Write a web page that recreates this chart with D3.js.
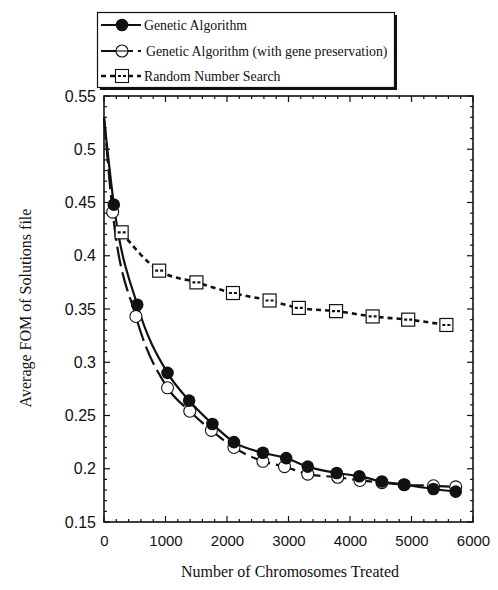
<!DOCTYPE html>
<html lang="en">
<head>
  <meta charset="UTF-8">
  <title>Average FOM vs Chromosomes Treated</title>
  <style>
    body { margin: 0; background: #fff; }
    svg text { fill: #111; }
  </style>
</head>
<body>
  <div id="chart"></div>

  <script src="https://d3js.org/d3.v7.min.js"></script>
  <script>

    // data
    const gaX   = [0, 160, 540, 1033, 1384, 1762, 2113, 2584, 2962, 3313, 3784, 4151, 4519, 4881, 5357, 5719];
    const gaY   = [0.530, 0.448, 0.354, 0.290, 0.264, 0.242, 0.225, 0.215, 0.210, 0.202, 0.196, 0.193, 0.188, 0.185, 0.181, 0.1785];

    const gpX   = [0, 141, 519, 1033, 1395, 1746, 2113, 2584, 2935, 3313, 3800, 4162, 4519, 4881, 5357, 5719];
    const gpY   = [0.530, 0.441, 0.343, 0.276, 0.254, 0.236, 0.220, 0.207, 0.202, 0.195, 0.192, 0.189, 0.187, 0.185, 0.184, 0.183];

    const rndX  = [287, 897, 1503, 2097, 2692, 3168, 3773, 4368, 4946, 5567];
    const rndY  = [0.422, 0.386, 0.375, 0.365, 0.358, 0.351, 0.348, 0.343, 0.340, 0.335];

    const seriesNames = ["Genetic Algorithm", "Genetic Algorithm (with gene preservation)", "Random Number Search"];
    const xTicks = [0, 1000, 2000, 3000, 4000, 5000, 6000];
    const yTicks = [0.15, 0.2, 0.25, 0.3, 0.35, 0.4, 0.45, 0.5, 0.55];

    const width = 498,
          height = 590,
          margin = {top: 96, right: 25, bottom: 68, left: 104};

    const svg = d3.select("#chart")
      .append("svg")
      .attr("width", width)
      .attr("height", height);

    const x = d3.scaleLinear([0, 6000], [margin.left, width - margin.right]);
    const y = d3.scaleLinear([0.15, 0.55], [height - margin.bottom, margin.top]);

    const serif = "'Liberation Serif', 'Times New Roman', serif";
    const sans = "'Liberation Sans', Arial, sans-serif";

    // minor ticks (inward, all four sides)
    const xMinor = d3.range(0, 6001, 200);
    const yMinor = d3.range(15, 56).map(v => v / 100);

    const tickG = svg.append("g").attr("stroke", "#111").attr("stroke-width", 1.2);
    xMinor.forEach(v => {
      const len = v % 1000 === 0 ? 6 : 3;
      tickG.append("line").attr("x1", x(v)).attr("x2", x(v))
        .attr("y1", y(0.15)).attr("y2", y(0.15) - len);
      tickG.append("line").attr("x1", x(v)).attr("x2", x(v))
        .attr("y1", y(0.55)).attr("y2", y(0.55) + len);
    });
    yMinor.forEach(v => {
      const len = Math.round(v * 100) % 5 === 0 ? 6 : 3;
      tickG.append("line").attr("y1", y(v)).attr("y2", y(v))
        .attr("x1", x(0)).attr("x2", x(0) + len);
      tickG.append("line").attr("y1", y(v)).attr("y2", y(v))
        .attr("x1", x(6000)).attr("x2", x(6000) - len);
    });

    // frame
    svg.append("rect")
      .attr("x", x(0)).attr("y", y(0.55))
      .attr("width", x(6000) - x(0)).attr("height", y(0.15) - y(0.55))
      .attr("fill", "none").attr("stroke", "#111").attr("stroke-width", 1.6);

    // axes labels
    svg.append("g")
      .attr("transform", `translate(0,${y(0.15)})`)
      .call(d3.axisBottom(x).tickValues(xTicks).tickSize(0).tickPadding(13).tickFormat(d3.format("d")))
      .call(g => g.select(".domain").remove())
      .selectAll("text")
      .style("font-family", sans).style("font-size", "15px");

    svg.append("g")
      .attr("transform", `translate(${x(0)},0)`)
      .call(d3.axisLeft(y).tickValues(yTicks).tickSize(0).tickPadding(8).tickFormat(d => d3.format("")(+d.toFixed(2))))
      .call(g => g.select(".domain").remove())
      .selectAll("text")
      .style("font-family", sans).style("font-size", "16px");

    svg.append("text") // x axis title
      .attr("x", 290)
      .attr("y", 577)
      .attr("text-anchor", "middle")
      .style("font-family", serif)
      .style("font-size", "16px")
      .text("Number of Chromosomes Treated");

    svg.append("text") // y axis title
      .attr("transform", `translate(31,308) rotate(-90)`)
      .attr("text-anchor", "middle")
      .style("font-family", serif)
      .style("font-size", "16px")
      .text("Average FOM of Solutions file");

    // lines
    const line = d3.line().x(d => x(d[0])).y(d => y(d[1])).curve(d3.curveMonotoneX);
    const ga = d3.zip(gaX, gaY);
    const gp = d3.zip(gpX, gpY);
    const rnd = d3.zip(rndX, rndY);

    svg.append("path").datum(gp)
      .attr("d", line).attr("fill", "none")
      .attr("stroke", "#111").attr("stroke-width", 2.2)
      .attr("stroke-dasharray", "20,6");

    svg.append("path").datum(ga)
      .attr("d", line).attr("fill", "none")
      .attr("stroke", "#111").attr("stroke-width", 2.2);

    svg.append("path").datum(rnd)
      .attr("d", line).attr("fill", "none")
      .attr("stroke", "#111").attr("stroke-width", 2.6)
      .attr("stroke-dasharray", "5,4");

    // markers
    svg.append("g").selectAll("circle")
      .data(gp.filter(d => d[0] > 0))
      .join("circle")
      .attr("cx", d => x(d[0])).attr("cy", d => y(d[1])).attr("r", 6)
      .attr("fill", "#fff").attr("stroke", "#111").attr("stroke-width", 1.1);

    svg.append("g").selectAll("circle")
      .data(ga.filter(d => d[0] > 0))
      .join("circle")
      .attr("cx", d => x(d[0])).attr("cy", d => y(d[1])).attr("r", 6.3)
      .attr("fill", "#111");

    const sq = svg.append("g").selectAll("g")
      .data(rnd)
      .join("g")
      .attr("transform", d => `translate(${x(d[0])},${y(d[1])})`);
    sq.append("rect")
      .attr("x", -6.5).attr("y", -6.5).attr("width", 13).attr("height", 13)
      .attr("fill", "#fff").attr("stroke", "#111").attr("stroke-width", 1.2);
    sq.append("line")
      .attr("x1", -4).attr("x2", 4).attr("y1", 0).attr("y2", 0)
      .attr("stroke", "#111").attr("stroke-width", 2.2).attr("stroke-dasharray", "3,2");

    // legend
    const legend = svg.append("g");
    legend.append("rect") // shadow
      .attr("x", 100).attr("y", 15).attr("width", 297).attr("height", 75)
      .attr("fill", "#111");
    legend.append("rect")
      .attr("x", 97.5).attr("y", 12.5).attr("width", 297).attr("height", 75)
      .attr("fill", "#fff").attr("stroke", "#111").attr("stroke-width", 1.2);

    const rowY = [25, 51, 76];
    const dashes = [null, "32,5,4,20", "5,4"];
    const legendRow = legend.selectAll(".legend-row")
      .data(seriesNames)
      .join("g")
      .attr("class", "legend-row")
      .attr("transform", (d, i) => `translate(0,${rowY[i]})`);

    legendRow.append("line")
      .attr("x1", 101).attr("x2", 141)
      .attr("y1", 0).attr("y2", 0)
      .attr("stroke", "#111")
      .attr("stroke-width", (d, i) => i === 2 ? 2.4 : 2)
      .attr("stroke-dasharray", (d, i) => dashes[i]);

    legendRow.filter((d, i) => i === 0).append("circle")
      .attr("cx", 122).attr("cy", 0).attr("r", 6.3).attr("fill", "#111");
    legendRow.filter((d, i) => i === 1).append("circle")
      .attr("cx", 122).attr("cy", 0).attr("r", 6).attr("fill", "#fff")
      .attr("stroke", "#111").attr("stroke-width", 1.1);
    legendRow.filter((d, i) => i === 1).append("line")
      .attr("x1", 116).attr("x2", 128).attr("y1", 0).attr("y2", 0)
      .attr("stroke", "#111").attr("stroke-width", 1.1);
    legendRow.filter((d, i) => i === 2).append("rect")
      .attr("x", 115.5).attr("y", -6.5).attr("width", 13).attr("height", 13)
      .attr("fill", "#fff").attr("stroke", "#111").attr("stroke-width", 1.1);
    legendRow.filter((d, i) => i === 2).append("line")
      .attr("x1", 118).attr("x2", 126).attr("y1", 0).attr("y2", 0)
      .attr("stroke", "#111").attr("stroke-width", 2).attr("stroke-dasharray", "3,2");

    legendRow.append("text")
      .attr("x", (d, i) => i === 1 ? 146 : 144)
      .attr("y", 4.5)
      .style("font-family", serif)
      .style("font-size", "13.8px")
      .text(d => d);

  </script>
</body>
</html>
